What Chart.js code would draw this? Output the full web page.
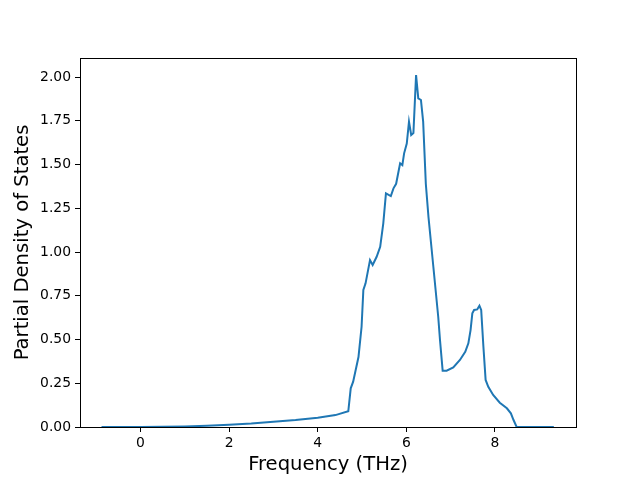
<!DOCTYPE html>
<html lang="en">
<head>
    <meta charset="UTF-8">
    <title>Partial DOS</title>
    <script src="https://cdn.jsdelivr.net/npm/chart.js/dist/chart.umd.min.js"></script>
    <style>
        body { margin: 0; background: #fff; }
        .chartBox { width: 640px; height: 480px; }
    </style>
</head>
<body>
    <div class="chartBox">
        <canvas id="myChart" width="640" height="480"></canvas>
    </div>
    <script>
        // frequency (THz) and partial DOS
        const freq = [-0.88, -0.5, 0, 0.5, 1, 1.5, 2, 2.5, 3, 3.5, 4, 4.4, 4.69,
            4.745, 4.80, 4.92, 4.99, 5.03, 5.08, 5.18, 5.24, 5.33, 5.41, 5.48, 5.54,
            5.65, 5.71, 5.77, 5.86, 5.91, 5.95, 6.01, 6.06, 6.11, 6.16, 6.22, 6.27,
            6.33, 6.38, 6.44, 6.50, 6.61, 6.72, 6.76, 6.82, 6.91, 7.06, 7.21, 7.33,
            7.40, 7.45, 7.49, 7.53, 7.60, 7.65, 7.69, 7.74, 7.79, 7.85, 7.96, 8.11,
            8.27, 8.36, 8.42, 8.49, 9.33];
        const pdos = [0, 0, 0, 0.001, 0.003, 0.007, 0.013, 0.02, 0.03, 0.04, 0.053, 0.068, 0.09,
            0.221, 0.259, 0.40, 0.573, 0.783, 0.821, 0.954, 0.926, 0.973, 1.03, 1.164, 1.335,
            1.32, 1.364, 1.39, 1.507, 1.497, 1.564, 1.62, 1.745, 1.669, 1.68, 2.011, 1.878,
            1.869, 1.745, 1.39, 1.20, 0.916, 0.63, 0.497, 0.322, 0.322, 0.341, 0.383, 0.43,
            0.478, 0.554, 0.65, 0.669, 0.672, 0.693, 0.669, 0.459, 0.269, 0.23, 0.183, 0.139,
            0.107, 0.078, 0.04, 0, 0];
        const xTicks = [0, 2, 4, 6, 8];
        const yTicks = [0, 0.25, 0.5, 0.75, 1, 1.25, 1.5, 1.75, 2];

        const points = freq.map((f, i) => ({ x: f, y: pdos[i] }));

        // matplotlib-like box around the plot
        const frame = {
            id: 'frame',
            afterDraw(chart) {
                const a = chart.chartArea;
                const ctx = chart.ctx;
                ctx.save();
                ctx.strokeStyle = '#000';
                ctx.lineWidth = 1;
                ctx.strokeRect(Math.round(a.left) + 0.5, Math.round(a.top) + 0.5,
                    Math.round(a.right - a.left), Math.round(a.bottom - a.top));
                ctx.restore();
            }
        };

        const tickFont = { family: 'DejaVu Sans', size: 13.9 };
        const titleFont = { family: 'DejaVu Sans', size: 19.6 };

        const config = {
            type: 'scatter',
            data: {
                datasets: [{
                    data: points,
                    showLine: true,
                    borderColor: '#1f77b4',
                    borderWidth: 2,
                    pointRadius: 0,
                    tension: 0
                }]
            },
            options: {
                responsive: false,
                animation: false,
                layout: { padding: { top: 58, right: 64, left: 0, bottom: 0 } },
                plugins: { legend: { display: false }, tooltip: { enabled: false } },
                scales: {
                    x: {
                        type: 'linear',
                        min: -1.366,
                        max: 9.83,
                        afterBuildTicks: s => { s.ticks = xTicks.map(v => ({ value: v })); },
                        afterFit: s => { s.height = 53; },
                        grid: { drawOnChartArea: false, drawTicks: true, tickLength: 5, color: '#000' },
                        border: { color: '#000' },
                        ticks: { color: '#000', font: tickFont, padding: 3, maxRotation: 0 },
                        title: { display: true, text: 'Frequency (THz)', color: '#000', font: titleFont, padding: { top: 0, bottom: 3 } }
                    },
                    y: {
                        type: 'linear',
                        min: 0,
                        max: 2.109,
                        afterBuildTicks: s => { s.ticks = yTicks.map(v => ({ value: v })); },
                        afterFit: s => { s.width = 80; },
                        grid: { drawOnChartArea: false, drawTicks: true, tickLength: 5, color: '#000' },
                        border: { color: '#000' },
                        ticks: { color: '#000', font: tickFont, padding: 4, callback: v => v.toFixed(2) },
                        title: { display: true, text: 'Partial Density of States', color: '#000', font: titleFont, padding: { top: 11, bottom: 0 } }
                    }
                }
            },
            plugins: [frame]
        };

        const myChart = new Chart(document.getElementById('myChart'), config);
    </script>
</body>
</html>
